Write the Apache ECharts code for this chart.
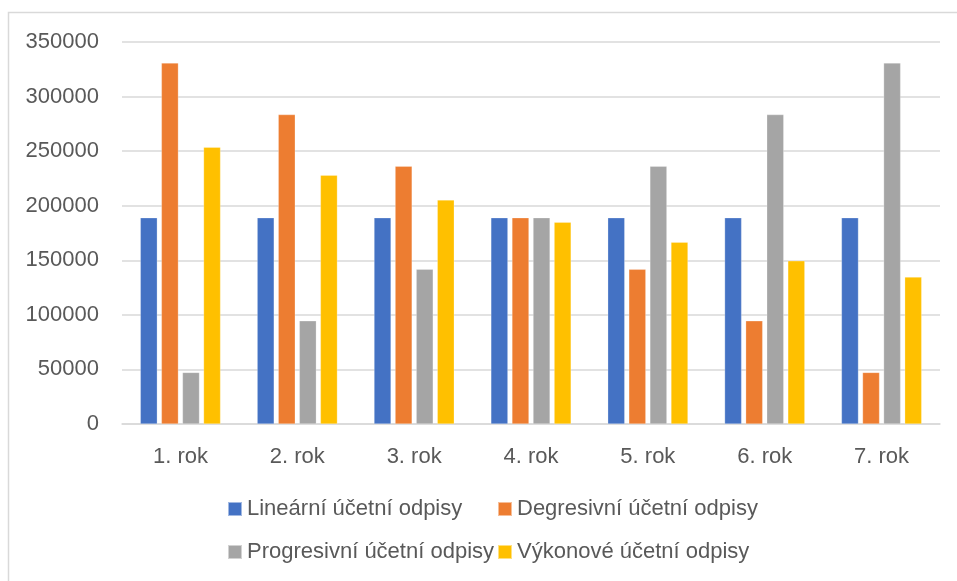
<!DOCTYPE html>
<html lang="cs">
<head>
    <meta charset="UTF-8">
    <title>Účetní odpisy</title>
    <script src="https://cdn.jsdelivr.net/npm/echarts@6/dist/echarts.min.js"></script>
    <style>
        html, body { margin: 0; padding: 0; background: #fff; }
        #main { width: 957px; height: 581px; }
    </style>
</head>
<body>
<div id="main"></div>
<script type="text/javascript">
    // kategorie (roky)
    var roky = ['1. rok', '2. rok', '3. rok', '4. rok', '5. rok', '6. rok', '7. rok'];

    // hodnoty odpisů
    var linearni = [189000, 189000, 189000, 189000, 189000, 189000, 189000];
    var degresivni = [330750, 283500, 236250, 189000, 141750, 94500, 47250];
    var progresivni = [47250, 94500, 141750, 189000, 236250, 283500, 330750];
    var vykonove = [253600, 228000, 205300, 184900, 166600, 149500, 134600];

    var nazvy = ['Lineární účetní odpisy', 'Degresivní účetní odpisy',
                 'Progresivní účetní odpisy', 'Výkonové účetní odpisy'];
    var barvy = ['#4472C4', '#ED7D31', '#A5A5A5', '#FFC000'];

    var font = 'Liberation Sans, Arial, sans-serif';
    var textColor = '#595959';

    var myChart = echarts.init(document.getElementById('main'));

    // jedna legenda na položku, aby sloupce legendy lícovaly jako v Excelu
    function legenda(name, left, top) {
        return {
            data: [name],
            left: left,
            top: top,
            padding: 0,
            itemWidth: 14,
            itemHeight: 14,
            itemGap: 0,
            icon: 'rect',
            textStyle: {color: textColor, fontSize: 22, fontFamily: font}
        };
    }

    var option = {
        animation: false,
        color: barvy,
        graphic: [
            {
                type: 'polyline',
                shape: {points: [[8.5, 600], [8.5, 12.5], [970, 12.5]]},
                style: {stroke: '#d9d9d9', lineWidth: 1.5, fill: null},
                silent: true
            }
        ],
        legend: [
            legenda(nazvy[0], 227, 498),
            legenda(nazvy[1], 497, 498),
            legenda(nazvy[2], 227, 541),
            legenda(nazvy[3], 497, 541)
        ],
        grid: {
            left: 122,
            right: 17,
            top: 42,
            bottom: 157,
            containLabel: false
        },
        xAxis: {
            type: 'category',
            data: roky,
            axisLine: {show: true, lineStyle: {color: '#d9d9d9', width: 1.5}},
            axisTick: {show: false},
            axisLabel: {color: textColor, fontSize: 22, fontFamily: font, margin: 22}
        },
        yAxis: {
            type: 'value',
            min: 0,
            max: 350000,
            interval: 50000,
            axisLine: {show: false},
            axisTick: {show: false},
            axisLabel: {
                color: textColor, fontSize: 22, fontFamily: font, margin: 23,
                formatter: function (v) { return String(v); }
            },
            splitLine: {lineStyle: {color: '#d9d9d9', width: 1.5}}
        },
        series: [
            {name: nazvy[0], type: 'bar', data: linearni},
            {name: nazvy[1], type: 'bar', data: degresivni},
            {name: nazvy[2], type: 'bar', data: progresivni},
            {name: nazvy[3], type: 'bar', data: vykonove}
        ].map(function (s) {
            s.barWidth = 17;
            s.barGap = '24%';
            s.itemStyle = {borderColor: 'rgba(255,255,255,0.5)', borderWidth: 0.5};
            return s;
        })
    };

    myChart.setOption(option);
</script>
</body>
</html>
